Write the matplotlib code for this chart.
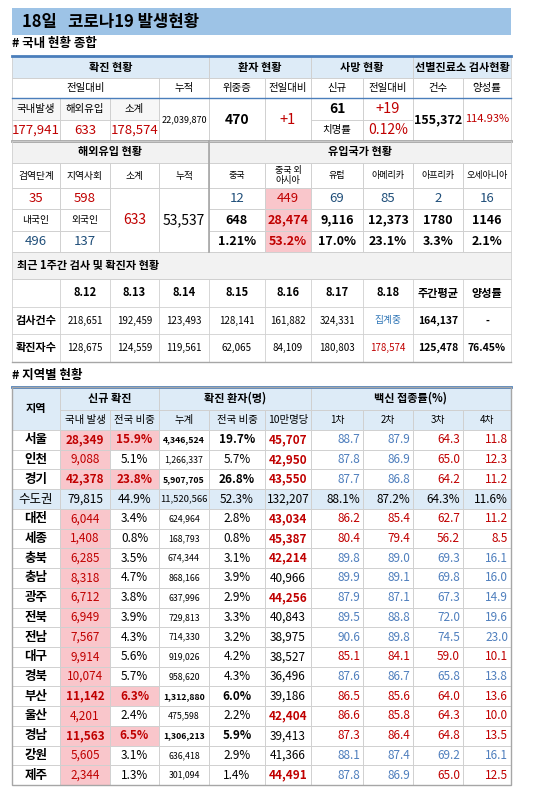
import matplotlib
matplotlib.use('Agg')
import matplotlib.pyplot as plt
from matplotlib.patches import Rectangle

plt.rcParams['font.family'] = ['Noto Sans CJK KR', 'DejaVu Sans']

# ---- data ----
title = '18일   코로나19 발생현황'
domestic_new = ['177,941', '633', '178,574']
total_cum = '22,039,870'
critical, critical_diff = '470', '+1'
death_new, death_diff, fatality = '61', '+19', '0.12%'
tests, positivity = '155,372', '114.93%'

import_stage = ['35', '598']
import_nat = ['496', '137']
import_sub, import_cum = '633', '53,537'
origin_names = ['중국', '중국 외\n아시아', '유럽', '아메리카', '아프리카', '오세아니아']
origin_today = ['12', '449', '69', '85', '2', '16']
origin_cum = ['648', '28,474', '9,116', '12,373', '1780', '1146']
origin_pct = ['1.21%', '53.2%', '17.0%', '23.1%', '3.3%', '2.1%']

week_days = ['8.12', '8.13', '8.14', '8.15', '8.16', '8.17', '8.18', '주간평균', '양성률']
week_tests = ['218,651', '192,459', '123,493', '128,141', '161,882', '324,331', '집계중', '164,137', '-']
week_cases = ['128,675', '124,559', '119,561', '62,065', '84,109', '180,803', '178,574', '125,478', '76.45%']

regions = ['서울', '인천', '경기', '수도권', '대전', '세종', '충북', '충남', '광주', '전북',
           '전남', '대구', '경북', '부산', '울산', '경남', '강원', '제주']
new_cases = ['28,349', '9,088', '42,378', '79,815', '6,044', '1,408', '6,285', '8,318', '6,712',
             '6,949', '7,567', '9,914', '10,074', '11,142', '4,201', '11,563', '5,605', '2,344']
new_share = ['15.9%', '5.1%', '23.8%', '44.9%', '3.4%', '0.8%', '3.5%', '4.7%', '3.8%', '3.9%',
             '4.3%', '5.6%', '5.7%', '6.3%', '2.4%', '6.5%', '3.1%', '1.3%']
cum_cases = ['4,346,524', '1,266,337', '5,907,705', '11,520,566', '624,964', '168,793', '674,344',
             '868,166', '637,996', '729,813', '714,330', '919,026', '958,620', '1,312,880',
             '475,598', '1,306,213', '636,418', '301,094']
cum_share = ['19.7%', '5.7%', '26.8%', '52.3%', '2.8%', '0.8%', '3.1%', '3.9%', '2.9%', '3.3%',
             '3.2%', '4.2%', '4.3%', '6.0%', '2.2%', '5.9%', '2.9%', '1.4%']
per100k = ['45,707', '42,950', '43,550', '132,207', '43,034', '45,387', '42,214', '40,966',
           '44,256', '40,843', '38,975', '38,527', '36,496', '39,186', '42,404', '39,413',
           '41,366', '44,491']
vac = [['88.7', '87.9', '64.3', '11.8'], ['87.8', '86.9', '65.0', '12.3'], ['87.7', '86.8', '64.2', '11.2'],
       ['88.1%', '87.2%', '64.3%', '11.6%'], ['86.2', '85.4', '62.7', '11.2'], ['80.4', '79.4', '56.2', '8.5'],
       ['89.8', '89.0', '69.3', '16.1'], ['89.9', '89.1', '69.8', '16.0'], ['87.9', '87.1', '67.3', '14.9'],
       ['89.5', '88.8', '72.0', '19.6'], ['90.6', '89.8', '74.5', '23.0'], ['85.1', '84.1', '59.0', '10.1'],
       ['87.6', '86.7', '65.8', '13.8'], ['86.5', '85.6', '64.0', '13.6'], ['86.6', '85.8', '64.3', '10.0'],
       ['87.3', '86.4', '64.8', '13.5'], ['88.1', '87.4', '69.2', '16.1'], ['87.8', '86.9', '65.0', '12.5']]
# r = red (below average), b = blue
vac_col = ['bbrr', 'bbrr', 'bbrr', 'kkkk', 'rrrr', 'rrrr', 'bbbb', 'bbbb', 'bbbb', 'bbbb',
           'bbbb', 'rrrr', 'bbbb', 'rrrr', 'rrrr', 'rrrr', 'bbbb', 'bbrr']
high_100k = ['서울', '인천', '경기', '대전', '세종', '충북', '광주', '울산', '제주']
big_share = ['서울', '경기', '부산', '경남']

# ---- style ----
RED = '#c00000'
BLUE = '#2e75b6'
VBLUE = '#4f7fbd'
NAVY = '#1f4e79'
PINK = '#f9c6cb'
HEAD = '#ddebf7'
GREY = '#f2f2f2'
GRID = '#d0d0d0'
ACC = '#4a7ebb'

X = [12, 60, 110, 159, 209, 265, 311, 363, 413, 463, 511]

fig = plt.figure(figsize=(5.5, 7.95), dpi=100)
ax = fig.add_axes([0, 0, 1, 1])
ax.set_xlim(0, 550)
ax.set_ylim(795, 0)
ax.axis('off')


def cell(c0, c1, y0, y1, txt='', color='black', bg=None, bold=False, size=8.5, ha='center', edge=True):
    x0, x1 = X[c0], X[c1]
    if bg:
        ax.add_patch(Rectangle((x0, y0), x1 - x0, y1 - y0, facecolor=bg, edgecolor='none', zorder=1))
    if edge:
        ax.add_patch(Rectangle((x0, y0), x1 - x0, y1 - y0, facecolor='none', edgecolor=GRID, lw=0.6, zorder=2))
    if txt:
        tx = (x0 + x1) / 2 if ha == 'center' else x0 + 5
        ax.text(tx, (y0 + y1) / 2, txt, ha=ha, va='center', color=color, fontsize=size,
                fontweight='bold' if bold else 'normal', zorder=3, linespacing=1.1)


# title
ax.add_patch(Rectangle((12, 8), 499, 27, facecolor='#9dc3e6', edgecolor='none'))
ax.text(22, 21.5, title, fontsize=12, fontweight='bold', va='center')
ax.text(12, 44, '# 국내 현황 종합', fontsize=9, fontweight='bold', va='center')

# block 1
for c0, c1, t in [(0, 4, '확진 현황'), (4, 6, '환자 현황'), (6, 8, '사망 현황'), (8, 10, '선별진료소 검사현황')]:
    cell(c0, c1, 56, 78, t, bg=HEAD, bold=True, size=8)
for c0, c1, t in [(0, 3, '전일대비'), (3, 4, '누적'), (4, 5, '위중증'), (5, 6, '전일대비'), (6, 7, '신규'),
                  (7, 8, '전일대비'), (8, 9, '건수'), (9, 10, '양성률')]:
    cell(c0, c1, 78, 98, t, size=7.5)
for i, t in enumerate(['국내발생', '해외유입', '소계']):
    cell(i, i + 1, 98, 120, t, bg='#f7f7f7', size=7.5)
    cell(i, i + 1, 120, 141, domestic_new[i], color=RED, size=9.5)
cell(3, 4, 98, 141, total_cum, size=6.5)
cell(4, 5, 98, 141, critical, bold=True, size=10)
cell(5, 6, 98, 141, critical_diff, color=RED, size=10.5)
cell(6, 7, 98, 120, death_new, bold=True, size=10)
cell(7, 8, 98, 120, death_diff, color=RED, size=10.5)
cell(6, 7, 120, 141, '치명률', size=7.5)
cell(7, 8, 120, 141, fatality, color=RED, size=10)
cell(8, 9, 98, 141, tests, bold=True, size=9)
cell(9, 10, 98, 141, positivity, color=RED, size=8)
ax.plot([12, 511], [56, 56], color=ACC, lw=2)
ax.plot([12, 511], [98, 98], color=ACC, lw=1)
ax.plot([12, 511], [141, 141], color='#a6a6a6', lw=2)

# block 2
cell(0, 4, 141, 163, '해외유입 현황', bg=GREY, bold=True, size=8)
cell(4, 10, 141, 163, '유입국가 현황', bg=GREY, bold=True, size=8)
for i, t in enumerate(['검역단계', '지역사회', '소계', '누적']):
    cell(i, i + 1, 163, 188, t, size=7)
for i, t in enumerate(origin_names):
    cell(4 + i, 5 + i, 163, 188, t, size=6.5)
for i in range(2):
    cell(i, i + 1, 188, 209, import_stage[i], color=RED, size=9.5)
    cell(i, i + 1, 209, 231, ['내국인', '외국인'][i], size=7)
    cell(i, i + 1, 231, 252, import_nat[i], color=NAVY, size=9.5)
cell(2, 3, 188, 252, import_sub, color=RED, size=10)
cell(3, 4, 188, 252, import_cum, size=10)
for i in range(6):
    hi = i == 1
    bg = PINK if hi else None
    cell(4 + i, 5 + i, 188, 209, origin_today[i], color=RED if hi else NAVY, bg=bg, size=9.5)
    cell(4 + i, 5 + i, 209, 231, origin_cum[i], color=RED if hi else 'black', bg=bg, bold=True, size=9)
    cell(4 + i, 5 + i, 231, 252, origin_pct[i], color=RED if hi else 'black', bg=bg, bold=True, size=9)
ax.plot([209, 209], [141, 252], color='#a6a6a6', lw=1.2)

# weekly
ax.add_patch(Rectangle((12, 252), 499, 27, facecolor=GREY, edgecolor=GRID, lw=0.6))
ax.text(17, 265.5, '최근 1주간 검사 및 확진자 현황', fontsize=8, fontweight='bold', va='center')
cell(0, 1, 307, 334, '검사건수', bold=True, size=8, edge=False)
cell(0, 1, 334, 362, '확진자수', bold=True, size=8, edge=False)
for i in range(9):
    last = i >= 7
    cell(1 + i, 2 + i, 279, 307, week_days[i], bold=True, size=8, edge=False)
    tc = BLUE if week_tests[i] == '집계중' else 'black'
    cell(1 + i, 2 + i, 307, 334, week_tests[i], color=tc, bold=last, size=7 if not last else 7.5, edge=False)
    cc = RED if i == 6 else 'black'
    cell(1 + i, 2 + i, 334, 362, week_cases[i], color=cc, bold=last, size=7 if not last else 7.5, edge=False)
for y in [279, 307, 334]:
    ax.plot([12, 511], [y, y], color=GRID, lw=0.6)
for x in X:
    ax.plot([x, x], [279, 362], color=GRID, lw=0.6)
ax.plot([12, 511], [362, 362], color='#a6a6a6', lw=1)

# regional table
ax.text(12, 375, '# 지역별 현황', fontsize=9, fontweight='bold', va='center')
cell(0, 1, 387, 430, '지역', bg=HEAD, bold=True, size=8)
cell(1, 3, 387, 410, '신규 확진', bg=HEAD, bold=True, size=8)
cell(3, 6, 387, 410, '확진 환자(명)', bg=HEAD, bold=True, size=8)
cell(6, 10, 387, 410, '백신 접종률(%)', bg=HEAD, bold=True, size=8)
for i, t in enumerate(['국내 발생', '전국 비중', '누계', '전국 비중', '10만명당', '1차', '2차', '3차', '4차']):
    cell(1 + i, 2 + i, 410, 430, t, bg=HEAD, size=7.5 if i < 5 else 7)
ax.plot([12, 511], [387, 387], color=ACC, lw=2)

rh = (785 - 430) / len(regions)
cmap = {'r': RED, 'b': VBLUE, 'k': 'black'}
for r, name in enumerate(regions):
    y0, y1 = 430 + r * rh, 430 + (r + 1) * rh
    cap = name == '수도권'
    big = name in big_share
    rowbg = HEAD if cap else None
    cell(0, 1, y0, y1, name, bg=rowbg, bold=not cap, size=9)
    cell(1, 2, y0, y1, new_cases[r], color='black' if cap else RED, bg=rowbg if cap else PINK,
         bold=big, size=8.5)
    cell(2, 3, y0, y1, new_share[r], color=RED if big else 'black', bg=PINK if big else rowbg,
         bold=big, size=8.5)
    cell(3, 4, y0, y1, cum_cases[r], bg=rowbg, bold=big, size=6.3 if not cap else 6.8)
    cell(4, 5, y0, y1, cum_share[r], bg=rowbg, bold=big, size=8.5)
    hk = name in high_100k
    cell(5, 6, y0, y1, per100k[r], color=RED if hk else 'black', bg=rowbg, bold=hk, size=8.5)
    for j in range(4):
        x1 = X[7 + j]
        if rowbg:
            ax.add_patch(Rectangle((X[6 + j], y0), X[7 + j] - X[6 + j], rh, facecolor=rowbg, edgecolor='none', zorder=1))
        ax.add_patch(Rectangle((X[6 + j], y0), X[7 + j] - X[6 + j], rh, facecolor='none', edgecolor=GRID, lw=0.6, zorder=2))
        ax.text(x1 - 3, (y0 + y1) / 2, vac[r][j], ha='right', va='center', fontsize=8.5,
                color=cmap[vac_col[r][j]], zorder=3)
ax.add_patch(Rectangle((12, 387), 499, 785 - 387, facecolor='none', edgecolor='#a6a6a6', lw=1, zorder=4))

fig.savefig('out.png', dpi=100)
